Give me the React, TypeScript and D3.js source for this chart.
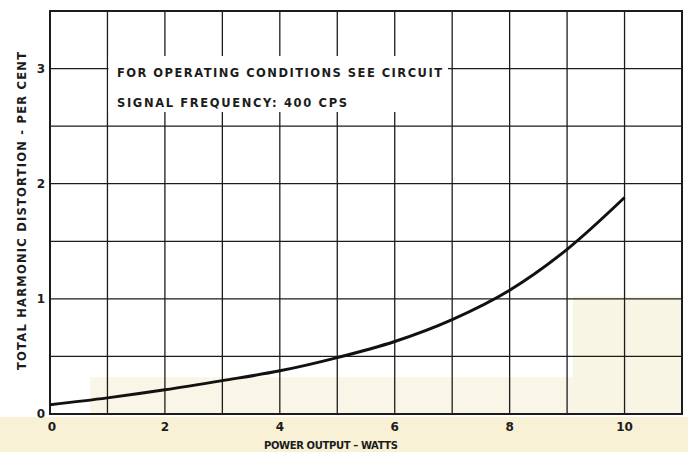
import React from "react";
import * as d3 from "d3";

const powerWatts = [0, 1, 2, 3, 4, 5, 6, 7, 8, 9, 10];
const distortionPct = [0.08, 0.14, 0.21, 0.29, 0.375, 0.49, 0.63, 0.82, 1.075, 1.43, 1.88];
const xTickLabels = ["0", "2", "4", "6", "8", "10"];
const xTickValues = [0, 2, 4, 6, 8, 10];
const yTickValues = [0, 1, 2, 3];
const noteLines = ["FOR OPERATING CONDITIONS SEE CIRCUIT", "SIGNAL FREQUENCY: 400 CPS"];
const xTitle = "POWER OUTPUT – WATTS";
const yTitle = "TOTAL HARMONIC DISTORTION - PER CENT";

const W = 688;
const H = 452;
const left = 50, right = 682, top = 11, bottom = 414;

export default function App() {
  const x = d3.scaleLinear().domain([0, 11]).range([left, right]);
  const y = d3.scaleLinear().domain([0, 3.5]).range([bottom, top]);
  const xGrid = d3.range(0, 11.01, 1);
  const yGrid = d3.range(0, 3.51, 0.5);
  const line = d3
    .line<number>()
    .x((_, i) => x(powerWatts[i]))
    .y((d) => y(d))
    .curve(d3.curveMonotoneX);
  const font = "'DejaVu Sans', 'Liberation Sans', sans-serif";
  const ink = "#1c1c1c";

  return (
    <svg
      width={W}
      height={H}
      style={{ position: "absolute", left: 0, top: 0, background: "#fff" }}
    >
      {/* scan tint */}
      <rect x={0} y={417} width={W} height={H - 417} fill="#f8f1d6" />
      <rect x={x(0.7)} y={y(0.32)} width={x(9.1) - x(0.7)} height={y(0) - y(0.32)} fill="#f9f6e8" />
      <rect x={x(9.1)} y={y(1.02)} width={right - x(9.1)} height={y(0) - y(1.02)} fill="#f9f5e4" />

      {/* grid */}
      {xGrid.map((v) => (
        <line key={"gx" + v} x1={x(v)} x2={x(v)} y1={top} y2={bottom} stroke={ink} strokeWidth={1.3} />
      ))}
      {yGrid.map((v) => (
        <line key={"gy" + v} x1={left} x2={right} y1={y(v)} y2={y(v)} stroke={ink} strokeWidth={1.3} />
      ))}

      {/* note box */}
      <rect x={x(1) + 1} y={56} width={448 - x(1) - 1} height={56} fill="#fff" />
      {noteLines.map((t, i) => (
        <text
          key={t}
          x={117}
          y={77 + i * 30}
          fontFamily={font}
          fontSize={11.5}
          fontWeight={600}
          fill={ink}
          textLength={i === 0 ? 325 : 230}
          lengthAdjust="spacing"
        >
          {t}
        </text>
      ))}

      {/* frame */}
      <rect x={left} y={top} width={right - left} height={bottom - top} fill="none" stroke={ink} strokeWidth={2} />

      {/* curve */}
      <path d={line(distortionPct) || ""} fill="none" stroke="#111" strokeWidth={3} />

      {/* y ticks */}
      {yTickValues.map((v) => (
        <text
          key={"yt" + v}
          x={41}
          y={y(v)}
          dy="0.35em"
          textAnchor="middle"
          fontFamily={font}
          fontSize={12}
          fontWeight={700}
          fill={ink}
        >
          {v}
        </text>
      ))}

      {/* x ticks */}
      {xTickValues.map((v, i) => (
        <text
          key={"xt" + v}
          x={x(v) + (v === 0 ? 2 : 0)}
          y={427}
          dy="0.35em"
          textAnchor="middle"
          fontFamily={font}
          fontSize={12}
          fontWeight={700}
          fill={ink}
        >
          {xTickLabels[i]}
        </text>
      ))}

      {/* axis titles */}
      <text
        x={331}
        y={449}
        textAnchor="middle"
        fontFamily={font}
        fontSize={10}
        fontWeight={700}
        fill={ink}
        textLength={134}
        lengthAdjust="spacing"
      >
        {xTitle}
      </text>
      <text
        transform={`translate(26, 211) rotate(-90)`}
        textAnchor="middle"
        fontFamily={font}
        fontSize={11.5}
        fontWeight={600}
        fill={ink}
        textLength={318}
        lengthAdjust="spacing"
      >
        {yTitle}
      </text>
    </svg>
  );
}
